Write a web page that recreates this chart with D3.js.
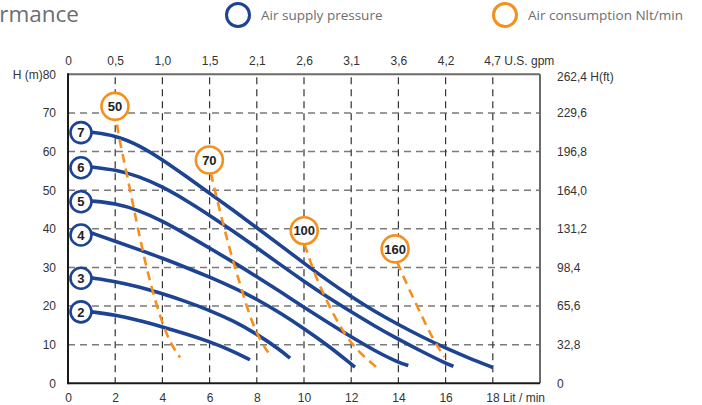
<!DOCTYPE html>
<html>
<head>
<meta charset="utf-8">
<style>
    body { margin: 0; background: #fff; }
    svg { display: block; }
    .tick text { font-family: "Liberation Sans", Arial, sans-serif; font-size: 12px; fill: #333; }
</style>
</head>
<body>
<svg id="chart" width="702" height="405"></svg>
<script src="https://cdn.jsdelivr.net/npm/d3@7/dist/d3.min.js"></script>
<script>
    // flow axis (Lit/min) and head axis (m)
    const flowTicks = [0, 2, 4, 6, 8, 10, 12, 14, 16, 18];
    const gpmLabels = ["0", "0,5", "1,0", "1,5", "2,1", "2,6", "3,1", "3,6", "4,2", "4,7 U.S. gpm"];
    const headTicks = [0, 10, 20, 30, 40, 50, 60, 70, 80];
    const feetLabels = ["0", "32,8", "65,6", "98,4", "131,2", "164,0", "196,8", "229,6", "262,4 H(ft)"];

    // air supply pressure curves (bar): [flow, head]
    const bar2 = [[1, 18.5], [2, 17.7], [3, 16.3], [4, 14.6], [5, 12.8], [6, 10.8], [7, 8.3], [7.71, 6.1]];
    const bar3 = [[1, 27.3], [2, 26.4], [3, 25], [4, 23.2], [5, 21.2], [6, 18.9], [7, 16.2], [8, 12.8], [9, 8.6], [9.41, 6.5]];
    const bar4 = [[1, 38.9], [2, 36.8], [3, 34.6], [4, 32.4], [5, 30], [6, 27.5], [7, 24.8], [8, 21.8], [9, 18.2], [10, 14.2], [11, 9.9], [12, 5], [12.16, 4.2]];
    const bar5 = [[1, 47.2], [2, 46.6], [3, 44.8], [4, 42], [5, 38.6], [6, 35], [7, 31.4], [8, 27.6], [9, 23.7], [10, 19.7], [11, 15.8], [12, 12], [13, 8.4], [14, 5.4], [14.42, 4.6]];
    const bar6 = [[1, 56], [2, 55.3], [3, 53.6], [4, 50.9], [5, 47.4], [6, 43.5], [7, 39.4], [8, 35.1], [9, 30.7], [10, 26.4], [11, 22.3], [12, 18.5], [13, 14.8], [14, 11.4], [15, 8.2], [16, 5.2], [16.33, 4.4]];
    const bar7 = [[1, 65], [2, 64.2], [3, 61.7], [4, 57.9], [5, 53.6], [6, 49.2], [7, 44.8], [8, 40.3], [9, 35.7], [10, 31.1], [11, 26.6], [12, 22.4], [13, 18.6], [14, 15.2], [15, 12], [16, 9.1], [17, 6.5], [18, 4.1]];
    const pressureNames = ["2", "3", "4", "5", "6", "7"];
    const pressureLabelPos = [[0.55, 18.5], [0.55, 27.2], [0.55, 38.4], [0.55, 47], [0.55, 55.8], [0.55, 64.9]];

    // air consumption lines (Nlt/min)
    const air50 = [[2.08, 67], [2.13, 64.5], [2.48, 54.5], [2.8, 45], [3.1, 36], [3.5, 25.5], [3.9, 17.3], [4.32, 10.4], [4.75, 6.7]];
    const air70 = [[6.05, 54.4], [6.4, 45.5], [6.75, 37], [7.05, 30.5], [7.3, 25.5], [7.55, 20.3], [7.85, 15], [8.2, 10.5], [8.56, 7.3]];
    const air100 = [[10.02, 36], [10.35, 30], [10.7, 24.8], [11.1, 19.6], [11.7, 12.8], [12.3, 8.2], [13.08, 4.1]];
    const air160 = [[13.95, 31.4], [14.4, 25], [14.95, 18], [15.45, 11.5], [15.95, 6.8]];
    const airNames = ["50", "70", "100", "160"];
    const airLabelPos = [[1.99, 71.7], [5.99, 57.8], [10.01, 39.5], [13.86, 34.8]];

    const blue = "#1d4393";
    const orange = "#f5901e";

    let svg = d3.select("#chart");
    let x = d3.scaleLinear().domain([0, 20]).range([68, 540]);
    let y = d3.scaleLinear().domain([0, 80]).range([383.3, 74.3]);

    // title (cut off at the left edge, as in the source)
    svg.append("text")
        .attr("x", 79).attr("y", 22)
        .attr("text-anchor", "end")
        .style("font-family", "Open Sans, sans-serif")
        .style("font-size", "22.5px")
        .style("fill", "#6d6e70")
        .text("Performance");

    // legend
    let legend = [["Air supply pressure", blue, 238], ["Air consumption Nlt/min", orange, 505]];
    for (let [label, color, cx] of legend) {
        svg.append("circle").attr("cx", cx).attr("cy", 15).attr("r", 11.5)
            .attr("fill", "none").attr("stroke", color).attr("stroke-width", 3);
        svg.append("text").attr("x", cx + 23).attr("y", 20)
            .style("font-family", "Open Sans, sans-serif")
            .style("font-size", "13.5px")
            .style("fill", "#6d6e70")
            .text(label);
    }

    // grid
    let grid = svg.append("g");
    grid.selectAll(".h").data(headTicks.slice(1, -1)).enter()
        .append("line")
        .attr("x1", x(0)).attr("x2", x(20))
        .attr("y1", (d) => y(d)).attr("y2", (d) => y(d))
        .attr("stroke", "#7a7a7a").attr("stroke-width", 1.5)
        .attr("stroke-dasharray", "7,5");
    grid.selectAll(".v").data(flowTicks.slice(1)).enter()
        .append("line")
        .attr("x1", (d) => x(d)).attr("x2", (d) => x(d))
        .attr("y1", y(80)).attr("y2", y(0))
        .attr("stroke", "#333").attr("stroke-width", 1.2)
        .attr("stroke-dasharray", "7,5")
        .attr("stroke-dashoffset", -3);

    // frame
    svg.append("line").attr("x1", x(0)).attr("x2", x(20)).attr("y1", y(80)).attr("y2", y(80))
        .attr("stroke", "#6e6a66").attr("stroke-width", 2);
    svg.append("line").attr("x1", x(20)).attr("x2", x(20)).attr("y1", y(80)).attr("y2", y(0))
        .attr("stroke", "#6e6a66").attr("stroke-width", 2);
    svg.append("line").attr("x1", x(0)).attr("x2", x(20)).attr("y1", y(0)).attr("y2", y(0))
        .attr("stroke", "#1a1a1a").attr("stroke-width", 2);
    svg.append("line").attr("x1", x(0)).attr("x2", x(0)).attr("y1", y(80) - 1).attr("y2", y(0) + 1)
        .attr("stroke", "#1a1a1a").attr("stroke-width", 2);

    // axes (labels only)
    let bottomAxis = d3.axisBottom(x).tickValues(flowTicks).tickSize(0).tickPadding(10)
        .tickFormat((d) => d === 18 ? "18 Lit / min" : d);
    let bottom = svg.append("g").attr("transform", `translate(0,${y(0)})`).call(bottomAxis);
    let topAxis = d3.axisTop(x).tickValues(flowTicks).tickSize(0).tickPadding(9)
        .tickFormat((d, i) => gpmLabels[i]);
    let topG = svg.append("g").attr("transform", `translate(0,${y(80)})`).call(topAxis);
    let leftAxis = d3.axisLeft(y).tickValues(headTicks).tickSize(0).tickPadding(12)
        .tickFormat((d) => d === 80 ? "H (m)80" : d);
    let left = svg.append("g").attr("transform", `translate(${x(0)},0)`).call(leftAxis);
    let rightAxis = d3.axisRight(y).tickValues(headTicks).tickSize(0).tickPadding(17)
        .tickFormat((d, i) => feetLabels[i]);
    let right = svg.append("g").attr("transform", `translate(${x(20)},0)`).call(rightAxis);
    for (let g of [bottom, topG, left, right]) g.select(".domain").remove();
    // unit labels start at the last tick rather than centred on it
    bottom.selectAll(".tick").filter((d) => d === 18).select("text")
        .attr("text-anchor", "start").attr("x", -7);
    topG.selectAll(".tick").filter((d) => d === 18).select("text")
        .attr("text-anchor", "start").attr("x", -9);
    right.selectAll(".tick").filter((d) => d === 80).select("text").attr("dy", "0.5em");

    // curves
    let line = d3.line().x((d) => x(d[0])).y((d) => y(d[1])).curve(d3.curveBasis);
    let pressureCurves = [bar2, bar3, bar4, bar5, bar6, bar7];
    svg.append("g").selectAll("path").data(pressureCurves).enter()
        .append("path")
        .attr("d", line)
        .attr("fill", "none")
        .attr("stroke", blue)
        .attr("stroke-width", 3.6)
        .attr("stroke-linecap", "butt");

    let airLines = [air50, air70, air100, air160];
    svg.append("g").selectAll("path").data(airLines).enter()
        .append("path")
        .attr("d", line)
        .attr("fill", "none")
        .attr("stroke", orange)
        .attr("stroke-width", 2.6)
        .attr("stroke-dasharray", "9,6");

    // curve badges
    function badges(names, pos, color, r) {
        let g = svg.append("g").selectAll("g").data(names).enter()
            .append("g")
            .attr("transform", (d, i) => `translate(${x(pos[i][0])},${y(pos[i][1])})`);
        g.append("circle").attr("r", r)
            .attr("fill", "#fff").attr("stroke", color).attr("stroke-width", 2.6);
        g.append("text").attr("text-anchor", "middle").attr("dy", "0.36em")
            .style("font-family", "Liberation Sans, Arial, sans-serif")
            .style("font-size", "13px").style("font-weight", "bold")
            .style("fill", "#222")
            .text((d) => d);
    }
    badges(pressureNames, pressureLabelPos, blue, 10.5);
    badges(airNames, airLabelPos, orange, 13.5);
</script>
</body>
</html>
